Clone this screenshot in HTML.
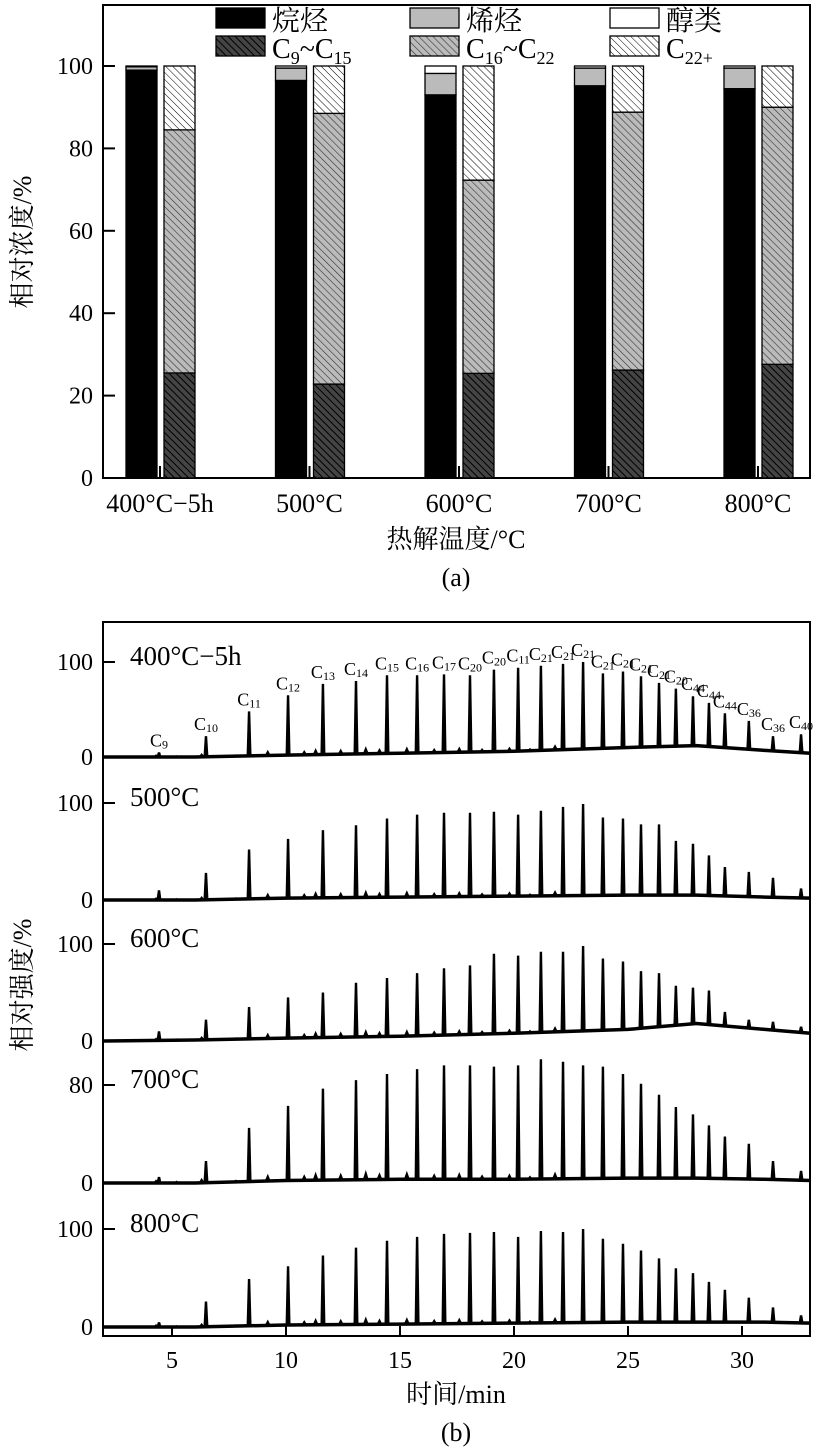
<!DOCTYPE html>
<html><head><meta charset="utf-8"><style>
body{margin:0;background:#fff}
svg{display:block;font-family:"Liberation Serif","Noto Serif CJK SC",serif}
</style></head><body>
<svg id="s" width="824" height="1450" viewBox="0 0 824 1450" xmlns="http://www.w3.org/2000/svg">
<defs>
<pattern id="hd" patternUnits="userSpaceOnUse" width="5" height="5" patternTransform="rotate(-45)"><rect width="5" height="5" fill="#444"/><line x1="0" y1="0" x2="0" y2="5" stroke="#000" stroke-width="2"/></pattern>
<pattern id="hl" patternUnits="userSpaceOnUse" width="5" height="5" patternTransform="rotate(-45)"><rect width="5" height="5" fill="#bbb"/><line x1="0" y1="0" x2="0" y2="5" stroke="#333" stroke-width="1.2"/></pattern>
<pattern id="hw" patternUnits="userSpaceOnUse" width="5" height="5" patternTransform="rotate(-45)"><rect width="5" height="5" fill="#fff"/><line x1="0" y1="0" x2="0" y2="5" stroke="#000" stroke-width="1"/></pattern>
</defs>
<g id="ga"></g>
<g id="gb"></g>
</svg>
<script>
// ---- chart (a) data ----
const catsA = ["400°C−5h","500°C","600°C","700°C","800°C"];
const alkane = [99,96.5,93,95.2,94.5];
const alkene = [0.8,3,5.2,4.3,5];
const alcohol = [0.2,0.5,1.8,0.5,0.5];
const c9_15 = [25.5,22.8,25.4,26.2,27.6];
const c16_22 = [59,65.7,46.9,62.6,62.4];
const c22p = [15.5,11.5,27.7,11.2,10];
const yTicksA = [0,20,40,60,80,100];
// ---- chart (b) data ----
const peakTimes = [4.43,6.49,8.38,10.09,11.62,13.07,14.43,15.75,16.93,18.07,19.12,20.18,21.18,22.15,23.03,23.9,24.78,25.57,26.36,27.1,27.85,28.55,29.25,30.3,31.36,32.59];
const peakLabels = ["9","10","11","12","13","14","15","16","17","20","20","11","21","21","21","21","21","21","21","20","44","44","44","36","36","40"];
const h400 = [5,22,48,65,77,80,86,86,87,86,92,94,96,98,100,88,90,85,78,72,64,57,46,38,22,24];
const h500 = [10,28,52,63,72,77,84,88,90,90,91,88,92,96,99,85,84,78,78,61,58,46,34,29,23,12];
const h600 = [10,22,35,45,50,60,65,70,75,78,90,88,92,92,98,85,82,72,70,57,55,52,30,22,20,15];
const h700 = [5,18,45,63,77,84,89,93,96,96,95,96,101,99,96,95,89,81,72,62,56,47,38,32,18,10];
const h800 = [5,26,49,62,73,81,88,92,95,96,97,92,98,97,100,90,85,78,70,60,55,46,38,30,20,12];
const baseT = [2,6,10,15,20,25,28,31,33];
const base400 = [0,0,2,4,6,10,12,7,4];
const base500 = [0,0,2,3,4,5,5,3,2];
const base600 = [0,1,3,5,8,12,18,12,8];
const base700 = [0,0,2,3,3,4,4,3,2];
const base800 = [0,0,2,3,4,5,5,5,4];
const minorT = [4.3,5.2,6.3,7.8,9.2,10.8,11.3,12.4,13.5,14.1,15.3,16.5,17.6,18.6,19.8,20.7,21.8];
const minorH = [3,2,4,2,6,5,7,6,8,6,7,5,6,4,5,3,6];
const xTicksB = [5,10,15,20,25,30];

const NS="http://www.w3.org/2000/svg";
function mk(tag,attrs,parent,text){const e=document.createElementNS(NS,tag);for(const k in attrs)e.setAttribute(k,attrs[k]);if(text!==undefined)e.textContent=text;parent.appendChild(e);return e;}
const ga=document.getElementById('ga'), gb=document.getElementById('gb');

// ---- chart a ----
const ya=v=>478-v*4.12;
const xc=i=>160+i*149.5;
let e=mk('rect',{x:103,y:5,width:707,height:473,fill:'none',stroke:'#000','stroke-width':2},ga);

yTicksA.forEach(v=>{
 let t=mk('line',{x1:103,x2:115,y1:ya(v),y2:ya(v),stroke:'#000','stroke-width':2},ga);
 
 let l=mk('text',{x:93,y:ya(v)+8,'font-size':24,'text-anchor':'end'},ga,String(v));
 
});
function seg(x,v0,v1,fill,name){let r=mk('rect',{x:x,y:ya(v1),width:31,height:ya(v0)-ya(v1),fill:fill,stroke:'#000','stroke-width':1.3},ga);}
catsA.forEach((c,i)=>{
 const x1=xc(i)-34,x2=xc(i)+4;
 let a=0;
 seg(x1,a,a+alkane[i],'#000','bar-alkane');a+=alkane[i];
 seg(x1,a,a+alkene[i],'#bbb','bar-alkene');a+=alkene[i];
 seg(x1,a,a+alcohol[i],'#fff','bar-alcohol');
 let b=0;
 seg(x2,b,b+c9_15[i],'url(#hd)','bar-c9-c15');b+=c9_15[i];
 seg(x2,b,b+c16_22[i],'url(#hl)','bar-c16-c22');b+=c16_22[i];
 seg(x2,b,b+c22p[i],'url(#hw)','bar-c22-plus');
 let t=mk('line',{x1:xc(i),x2:xc(i),y1:478,y2:466,stroke:'#000','stroke-width':2},ga);
 
 let l=mk('text',{x:xc(i),y:512,'font-size':26,'text-anchor':'middle'},ga,c);
 
});
let tt=mk('text',{x:456,y:548,'font-size':26,'text-anchor':'middle'},ga,'热解温度/°C');
tt=mk('text',{x:0,y:0,'font-size':26,'text-anchor':'middle',transform:'translate(31,242) rotate(-90)'},ga,'相对浓度/%');
tt=mk('text',{x:456,y:586,'font-size':26,'text-anchor':'middle'},ga,'(a)');
// legend
const leg=[[216,8,'#000','烷烃',null],[410,8,'#bbb','烯烃',null],[610,8,'#fff','醇类',null],[216,36,'url(#hd)','C',['9','~C','15']],[410,36,'url(#hl)','C',['16','~C','22']],[610,36,'url(#hw)','C',['22+']]];
leg.forEach(L=>{
 const g=mk('g',{},ga);
 mk('rect',{x:L[0],y:L[1],width:49,height:20,fill:L[2],stroke:'#000','stroke-width':1.3},g);
 const t=mk('text',{x:L[0]+56,y:L[1]+22,'font-size':28},g);
 if(!L[4]){t.textContent=L[3];}else{
  mk('tspan',{},t,'C');
  mk('tspan',{'font-size':18,dy:6},t,L[4][0]);
  if(L[4].length>1){mk('tspan',{'font-size':28,dy:-6},t,L[4][1]);mk('tspan',{'font-size':18,dy:6},t,L[4][2]);}
 }
});

// ---- chart b ----
const xb=t=>58+22.8*t;
const panels=[
 {name:'400°C−5h',z:757,s:0.95,h:h400,b:base400,ticks:[0,100]},
 {name:'500°C',z:900,s:0.97,h:h500,b:base500,ticks:[0,100]},
 {name:'600°C',z:1041,s:0.97,h:h600,b:base600,ticks:[0,100]},
 {name:'700°C',z:1183,s:1.225,h:h700,b:base700,ticks:[0,80]},
 {name:'800°C',z:1327,s:0.98,h:h800,b:base800,ticks:[0,100]}];
e=mk('rect',{x:103,y:622,width:707,height:714,fill:'none',stroke:'#000','stroke-width':2},gb);

function baseAt(p,t){for(let k=0;k<baseT.length-1;k++){if(t<=baseT[k+1]){const f=(t-baseT[k])/(baseT[k+1]-baseT[k]);return p.b[k]+f*(p.b[k+1]-p.b[k]);}}return p.b[p.b.length-1];}
panels.forEach((p,pi)=>{
 const g=mk('g',{},gb);
 const yv=v=>p.z-v*p.s;
 let d='';
 for(let k=0;k<baseT.length;k++){d+=(k?'L':'M')+xb(baseT[k]).toFixed(1)+' '+yv(p.b[k]).toFixed(1);}
 const bl=mk('path',{d:d,fill:'none',stroke:'#000','stroke-width':3.5},g);
 
 minorT.forEach((t,k)=>{const b=baseAt(p,t);const x=xb(t);
  const m=mk('path',{d:`M${x-3} ${yv(b)} L${x} ${yv(b+minorH[k])} L${x+3} ${yv(b)}Z`,fill:'#000'},g);
  });
 peakTimes.forEach((t,k)=>{const b=baseAt(p,t);const x=xb(t);
  const pk=mk('path',{d:`M${x-2.5} ${yv(b)} L${x-1.2} ${yv(p.h[k])} L${x+1.2} ${yv(p.h[k])} L${x+2.5} ${yv(b)}Z`,fill:'#000'},g);
  
  if(pi===0){const lt=mk('text',{x:x,y:yv(p.h[k])-6,'font-size':18,'text-anchor':'middle'},g);
   
   mk('tspan',{},lt,'C');mk('tspan',{'font-size':12,dy:2},lt,peakLabels[k]);}
 });
 p.ticks.forEach(v=>{
  const tk=mk('line',{x1:103,x2:115,y1:yv(v),y2:yv(v),stroke:'#000','stroke-width':2},g);
  
  const l=mk('text',{x:93,y:yv(v)+8,'font-size':24,'text-anchor':'end'},g,String(v));
  
 });
 const nl=mk('text',{x:130,y:yv(p.ticks[1])+3,'font-size':27},g,p.name);
 
});
xTicksB.forEach(v=>{
 const t=mk('line',{x1:xb(v),x2:xb(v),y1:1336,y2:1326,stroke:'#000','stroke-width':2},gb);
 
 const l=mk('text',{x:xb(v),y:1368,'font-size':24,'text-anchor':'middle'},gb,String(v));
 
});
tt=mk('text',{x:456,y:1403,'font-size':26,'text-anchor':'middle'},gb,'时间/min');
tt=mk('text',{x:0,y:0,'font-size':26,'text-anchor':'middle',transform:'translate(31,985) rotate(-90)'},gb,'相对强度/%');
tt=mk('text',{x:456,y:1441,'font-size':26,'text-anchor':'middle'},gb,'(b)');
</script>
</body></html>
